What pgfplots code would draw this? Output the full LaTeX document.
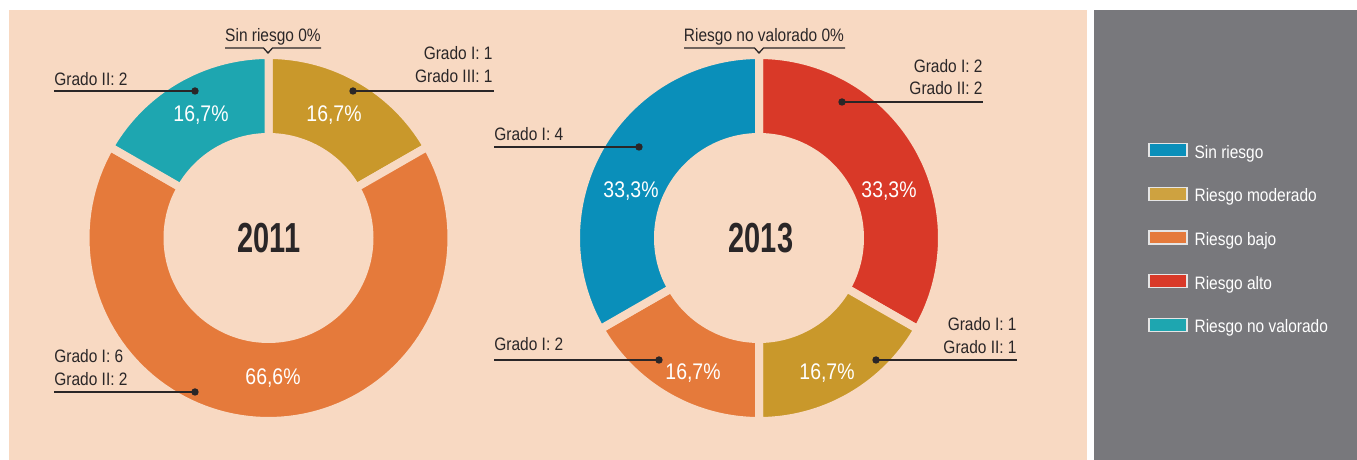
\documentclass[border=0pt]{standalone}
\usepackage{fontspec}
\setmainfont{Liberation Sans}[FakeStretch=0.86]
\newfontfamily\yearfont{Liberation Sans}[FakeStretch=0.69]
\usepackage{pgfplots}
\pgfplotsset{compat=1.18}
\definecolor{peach}{HTML}{F8D9C2}
\definecolor{panelgrey}{HTML}{78787C}
\definecolor{cblue}{HTML}{0A8FBA}
\definecolor{cgold}{HTML}{C9982B}
\definecolor{corange}{HTML}{E57A3B}
\definecolor{cred}{HTML}{D93928}
\definecolor{cteal}{HTML}{1EA6B0}
\definecolor{ink}{HTML}{2A2627}
\newcommand{\lab}{\fontsize{9}{11}\selectfont}
\newcommand{\pct}{\fontsize{11.3}{13}\selectfont}
\newcommand{\yr}{\yearfont\bfseries\fontsize{21}{25}\selectfont}
% slice: cx, cy, start (cumulative %), value (%), colour
\newcommand{\donutslice}[5]{%
  \addplot[fill=#5, draw=peach, line width=4pt, line join=round, forget plot,
    domain={90-3.6*(#3+#4)}:{90-3.6*(#3)}, samples=100, variable=\t]
    ({#1+183*cos(\t)},{#2+183*sin(\t)}) -- (axis cs:#1,#2) -- cycle;
}
\newcommand{\donuthole}[2]{%
  \addplot[fill=peach, draw=none, forget plot, domain=0:360, samples=150, variable=\t]
    ({#1+105*cos(\t)},{#2+105*sin(\t)}) -- cycle;
}
\begin{document}
\begin{tikzpicture}
\begin{axis}[
  x=0.5pt, y=0.5pt, xmin=0, xmax=1357, ymin=0, ymax=460,
  hide axis, clip=false, scale only axis,
  legend image code/.code={\draw[#1] (0pt,-1.5pt) rectangle (19pt,5pt);},
  legend style={at={(axis cs:1148,220)}, anchor=west, draw=none, fill=none,
    inner sep=0pt, row sep=12.3pt, font=\lab,
    nodes={inner sep=0pt, text=white, text height=6.5pt, text depth=2pt},
    /tikz/every odd column/.append style={column sep=3.5pt}},
  legend cell align=left,
]
% panels
\fill[white] (axis cs:0,0) rectangle (axis cs:1357,460);
\fill[peach] (axis cs:9,0) rectangle (axis cs:1087,450);
\fill[panelgrey] (axis cs:1094,0) rectangle (axis cs:1357,450);

% ---- 2011: Sin riesgo 0, Riesgo moderado 16.7, Riesgo bajo 66.6, Riesgo no valorado 16.7
\donutslice{268.5}{222}{0}{16.7}{cgold}
\donutslice{268.5}{222}{16.7}{66.6}{corange}
\donutslice{268.5}{222}{83.3}{16.7}{cteal}
\donuthole{268.5}{222}

% ---- 2013: Riesgo no valorado 0, Riesgo alto 33.3, Riesgo moderado 16.7, Riesgo bajo 16.7, Sin riesgo 33.3
\donutslice{759}{222}{0}{33.3}{cred}
\donutslice{759}{222}{33.3}{16.7}{cgold}
\donutslice{759}{222}{50}{16.7}{corange}
\donutslice{759}{222}{66.7}{33.3}{cblue}
\donuthole{759}{222}

% brackets for 0% labels
\addplot[ink, line width=0.65pt, forget plot] coordinates {(225,412) (263.5,412) (268,407) (272.5,412) (321,412)};
\addplot[ink, line width=0.65pt, forget plot] coordinates {(684,412) (754.5,412) (759,407) (763.5,412) (845,412)};

% leader lines
\addplot[ink, line width=0.65pt, mark=*, mark size=1.5pt, mark options={fill=ink, draw=ink}, mark indices={2}, forget plot] coordinates {(54,369) (195,369)};
\addplot[ink, line width=0.65pt, mark=*, mark size=1.5pt, mark options={fill=ink, draw=ink}, mark indices={1}, forget plot] coordinates {(353,369) (494,369)};
\addplot[ink, line width=0.65pt, mark=*, mark size=1.5pt, mark options={fill=ink, draw=ink}, mark indices={2}, forget plot] coordinates {(54,68) (195,68)};
\addplot[ink, line width=0.65pt, mark=*, mark size=1.5pt, mark options={fill=ink, draw=ink}, mark indices={1}, forget plot] coordinates {(842,358) (983,358)};
\addplot[ink, line width=0.65pt, mark=*, mark size=1.5pt, mark options={fill=ink, draw=ink}, mark indices={2}, forget plot] coordinates {(494,313) (639,313)};
\addplot[ink, line width=0.65pt, mark=*, mark size=1.5pt, mark options={fill=ink, draw=ink}, mark indices={2}, forget plot] coordinates {(494,100) (659,100)};
\addplot[ink, line width=0.65pt, mark=*, mark size=1.5pt, mark options={fill=ink, draw=ink}, mark indices={1}, forget plot] coordinates {(876,100) (1017,100)};

% texts 2011
\node[anchor=base, text=ink, font=\lab] at (axis cs:273,418) {Sin riesgo 0\%};
\node[anchor=base west, text=ink, font=\lab, inner sep=0pt] at (axis cs:54,374) {Grado II: 2};
\node[anchor=base east, text=ink, font=\lab, inner sep=0pt] at (axis cs:493,400) {Grado I: 1};
\node[anchor=base east, text=ink, font=\lab, inner sep=0pt] at (axis cs:493,377) {Grado III: 1};
\node[anchor=base west, text=ink, font=\lab, inner sep=0pt] at (axis cs:54,97) {Grado I: 6};
\node[anchor=base west, text=ink, font=\lab, inner sep=0pt] at (axis cs:54,74) {Grado II: 2};
\node[anchor=base, text=white, font=\pct] at (axis cs:201,338) {16,7\%};
\node[anchor=base, text=white, font=\pct] at (axis cs:334,338) {16,7\%};
\node[anchor=base, text=white, font=\pct] at (axis cs:273,75) {66,6\%};
\node[anchor=base, text=ink, font=\yr] at (axis cs:268.7,207) {2011};

% texts 2013
\node[anchor=base, text=ink, font=\lab] at (axis cs:764,418) {Riesgo no valorado 0\%};
\node[anchor=base east, text=ink, font=\lab, inner sep=0pt] at (axis cs:983,387) {Grado I: 2};
\node[anchor=base east, text=ink, font=\lab, inner sep=0pt] at (axis cs:983,365) {Grado II: 2};
\node[anchor=base west, text=ink, font=\lab, inner sep=0pt] at (axis cs:494,319) {Grado I: 4};
\node[anchor=base west, text=ink, font=\lab, inner sep=0pt] at (axis cs:494,109) {Grado I: 2};
\node[anchor=base east, text=ink, font=\lab, inner sep=0pt] at (axis cs:1017,129) {Grado I: 1};
\node[anchor=base east, text=ink, font=\lab, inner sep=0pt] at (axis cs:1017,106) {Grado II: 1};
\node[anchor=base, text=white, font=\pct] at (axis cs:631,262) {33,3\%};
\node[anchor=base, text=white, font=\pct] at (axis cs:889,262) {33,3\%};
\node[anchor=base, text=white, font=\pct] at (axis cs:693,80) {16,7\%};
\node[anchor=base, text=white, font=\pct] at (axis cs:827,80) {16,7\%};
\node[anchor=base, text=ink, font=\yr] at (axis cs:761,207) {2013};

% legend
\addlegendimage{fill=cblue, draw=white!80!gray, line width=0.6pt}
\addlegendentry{Sin riesgo}
\addlegendimage{fill=cgold!90!white, draw=white!80!gray, line width=0.6pt}
\addlegendentry{Riesgo moderado}
\addlegendimage{fill=corange, draw=white!80!gray, line width=0.6pt}
\addlegendentry{Riesgo bajo}
\addlegendimage{fill=cred, draw=white!80!gray, line width=0.6pt}
\addlegendentry{Riesgo alto}
\addlegendimage{fill=cteal, draw=white!80!gray, line width=0.6pt}
\addlegendentry{Riesgo no valorado}
\end{axis}
\end{tikzpicture}
\end{document}
